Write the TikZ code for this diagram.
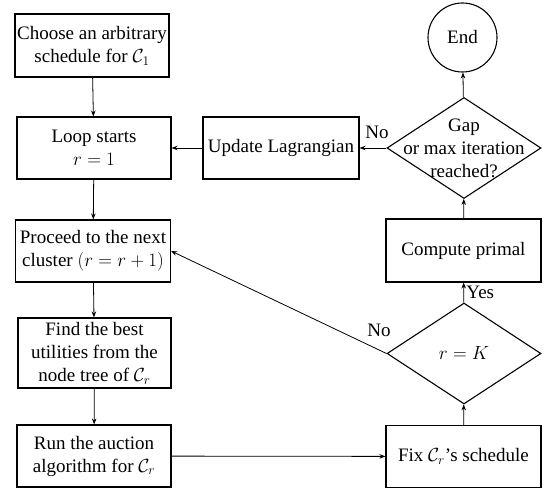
\RequirePackage{fix-cm}
\documentclass[tikz,border=0pt]{standalone}
\usepackage{fontspec}
\setmainfont{Liberation Serif}
\usetikzlibrary{shapes.geometric,arrows.meta}
\newlength{\du}
\setlength{\du}{1pt}
\tikzset{
  stepbox/.style={draw,line width=1.1pt,align=center,inner sep=0pt,
    minimum width=154\du,minimum height=62\du},
  decision/.style={draw,diamond,line width=1.1pt,inner sep=0pt,
    minimum width=154\du,minimum height=101\du},
  flow/.style={-{Stealth[length=6pt,width=4.5pt]},line width=0.8pt},
}
\begin{document}
\begin{tikzpicture}[font=\fontsize{19}{23}\selectfont]
\pgftransformyscale{-1.000000}
\useasboundingbox (0\du,0\du) rectangle (549\du,494\du);
% left column
\node[stepbox,minimum height=63\du] (choose) at (92\du,45.5\du) {Choose an arbitrary\\schedule for $\mathcal{C}_1$};
\node[stepbox] (loop) at (94\du,148\du) {Loop starts\\$r=1$};
\node[stepbox,minimum width=155\du] (proceed) at (93\du,251\du) {Proceed to the next\\cluster $(r=r+1)$};
\node[stepbox,minimum width=153\du,minimum height=70\du] (find) at (94.5\du,353\du) {Find the best\\utilities from the\\node tree of $\mathcal{C}_r$};
\node[stepbox] (run) at (94\du,456\du) {Run the auction\\algorithm for $\mathcal{C}_r$};
% right column
\node[stepbox,minimum width=155\du] (fix) at (463.5\du,456.5\du) {Fix $\mathcal{C}_r$'s schedule};
\node[decision] (rk) at (464\du,353.5\du) {};
\node (rktext) at (464\du,353.5\du) {$r=K$};
\node[stepbox,minimum width=155\du,minimum height=63\du] (primal) at (463.5\du,250.5\du) {Compute primal};
\node[decision] (gap) at (464\du,148\du) {};
\node[align=center] (gaptext) at (464\du,148\du) {Gap\\or max iteration\\reached?};
\node[draw,circle,line width=1.1pt,minimum size=69\du,inner sep=0pt] (end) at (462.5\du,37.5\du) {End};
\node[stepbox,minimum width=156\du] (update) at (281\du,148\du) {Update Lagrangian};
% connectors
\draw[flow] (choose) -- (loop);
\draw[flow] (loop) -- (proceed);
\draw[flow] (proceed) -- (find);
\draw[flow] (find) -- (run);
\draw[flow] (run) -- (fix);
\draw[flow] (fix) -- (rk);
\draw[flow] (rk) -- node[right,xshift=-1\du] {Yes} (primal);
\draw[flow] (rk.west) -- (proceed.east);
\node (nobottom) at (379\du,330\du) {No};
\draw[flow] (primal) -- (gap);
\draw[flow] (gap) -- (end);
\draw[flow] (gap) -- (update);
\node (notop) at (377\du,132\du) {No};
\draw[flow] (update) -- (loop);
\end{tikzpicture}
\end{document}
